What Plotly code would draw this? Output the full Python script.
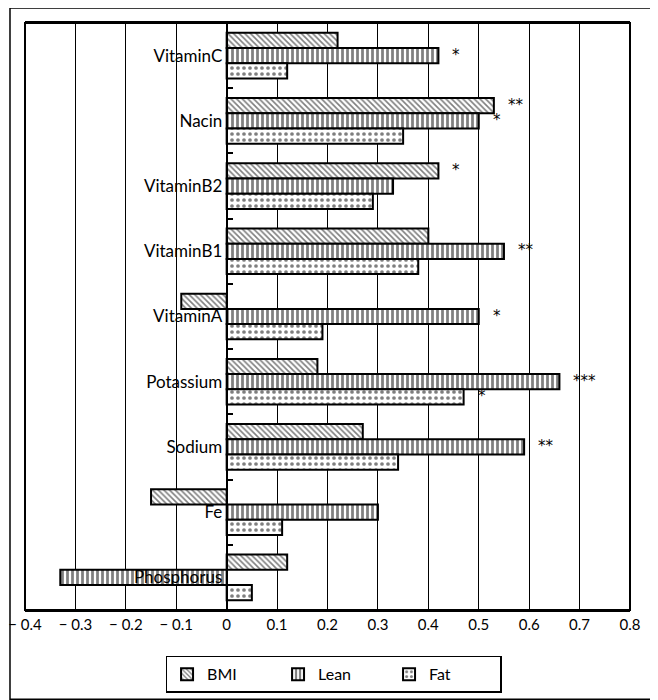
import plotly.graph_objects as go

categories = ["VitaminC", "Nacin", "VitaminB2", "VitaminB1", "VitaminA",
              "Potassium", "Sodium", "Fe", "Phosphorus"]
bmi = [0.22, 0.53, 0.42, 0.40, -0.09, 0.18, 0.27, -0.15, 0.12]
lean = [0.42, 0.50, 0.33, 0.55, 0.50, 0.66, 0.59, 0.30, -0.33]
fat = [0.12, 0.35, 0.29, 0.38, 0.19, 0.47, 0.34, 0.11, 0.05]
bmi_sig = ["", "**", "*", "", "", "", "", "", ""]
lean_sig = ["*", "*", "", "**", "*", "***", "**", "", ""]
fat_sig = ["", "", "", "", "", "*", "", "", ""]
x_ticks = [-0.4, -0.3, -0.2, -0.1, 0, 0.1, 0.2, 0.3, 0.4, 0.5, 0.6, 0.7, 0.8]
x_ticktext = ["\u2212 0.4", "\u2212 0.3", "\u2212 0.2", "\u2212 0.1", "0", "0.1", "0.2",
              "0.3", "0.4", "0.5", "0.6", "0.7", "0.8"]

FONT = "Lato"

series = [
    ("BMI", bmi, bmi_sig, dict(shape="\\", size=4, solidity=0.4), 15.2),
    ("Lean", lean, lean_sig, dict(shape="|", size=5, solidity=0.55), 0),
    ("Fat", fat, fat_sig, dict(shape=".", size=6, solidity=0.3), -15.2),
]

fig = go.Figure()
annotations = []
for name, vals, sig, pat, ysh in series:
    fig.add_trace(go.Bar(
        name=name, y=categories, x=vals, orientation="h",
        marker=dict(color="white",
                    line=dict(color="black", width=2),
                    pattern=dict(fgcolor="black", bgcolor="white", **pat)),
    ))
    for c, v, s in zip(categories, vals, sig):
        if s:
            annotations.append(dict(
                x=v, y=c, xref="x", yref="y", text=s, showarrow=False,
                xanchor="left", yanchor="middle", xshift=12, yshift=ysh + 1,
                font=dict(family="DejaVu Sans", size=15, color="black")))

fig.update_layout(
    width=658, height=700,
    margin=dict(l=17, r=36, t=15, b=98, autoexpand=False),
    paper_bgcolor="white", plot_bgcolor="white",
    barmode="group", bargap=0.3, bargroupgap=0,
    font=dict(family=FONT, size=16, color="black"),
    xaxis=dict(range=[-0.4, 0.8], tickvals=x_ticks, ticktext=x_ticktext,
               automargin=False,
               showgrid=True, gridcolor="black", gridwidth=1,
               zeroline=True, zerolinecolor="black", zerolinewidth=2,
               showline=True, linecolor="black", linewidth=2, mirror=True,
               ticks="", tickfont=dict(size=15)),
    yaxis=dict(categoryorder="array", categoryarray=categories,
               autorange="reversed", anchor="free", position=0.4 / 1.2,
               automargin=False,
               showline=True, linecolor="black", linewidth=2,
               showgrid=False, ticks="inside", ticklen=5, tickcolor="black",
               tickwidth=1.5, tickson="boundaries",
               tickfont=dict(size=17)),
    legend=dict(orientation="h", x=0.51, xanchor="center", y=-0.078,
                yanchor="top", bordercolor="black", borderwidth=1.5,
                font=dict(size=16), entrywidth=66, itemwidth=30,
                traceorder="normal"),
    annotations=annotations,
    shapes=[
        dict(type="rect", xref="paper", yref="paper", x0=0, x1=1, y0=0, y1=1,
             line=dict(color="black", width=2), layer="above"),
        dict(type="rect", xref="paper", yref="paper", x0=-0.0248, x1=1.036,
             y0=-0.152, y1=1.0256, line=dict(color="black", width=1.5)),
    ],
)

fig.write_html("out.html")
